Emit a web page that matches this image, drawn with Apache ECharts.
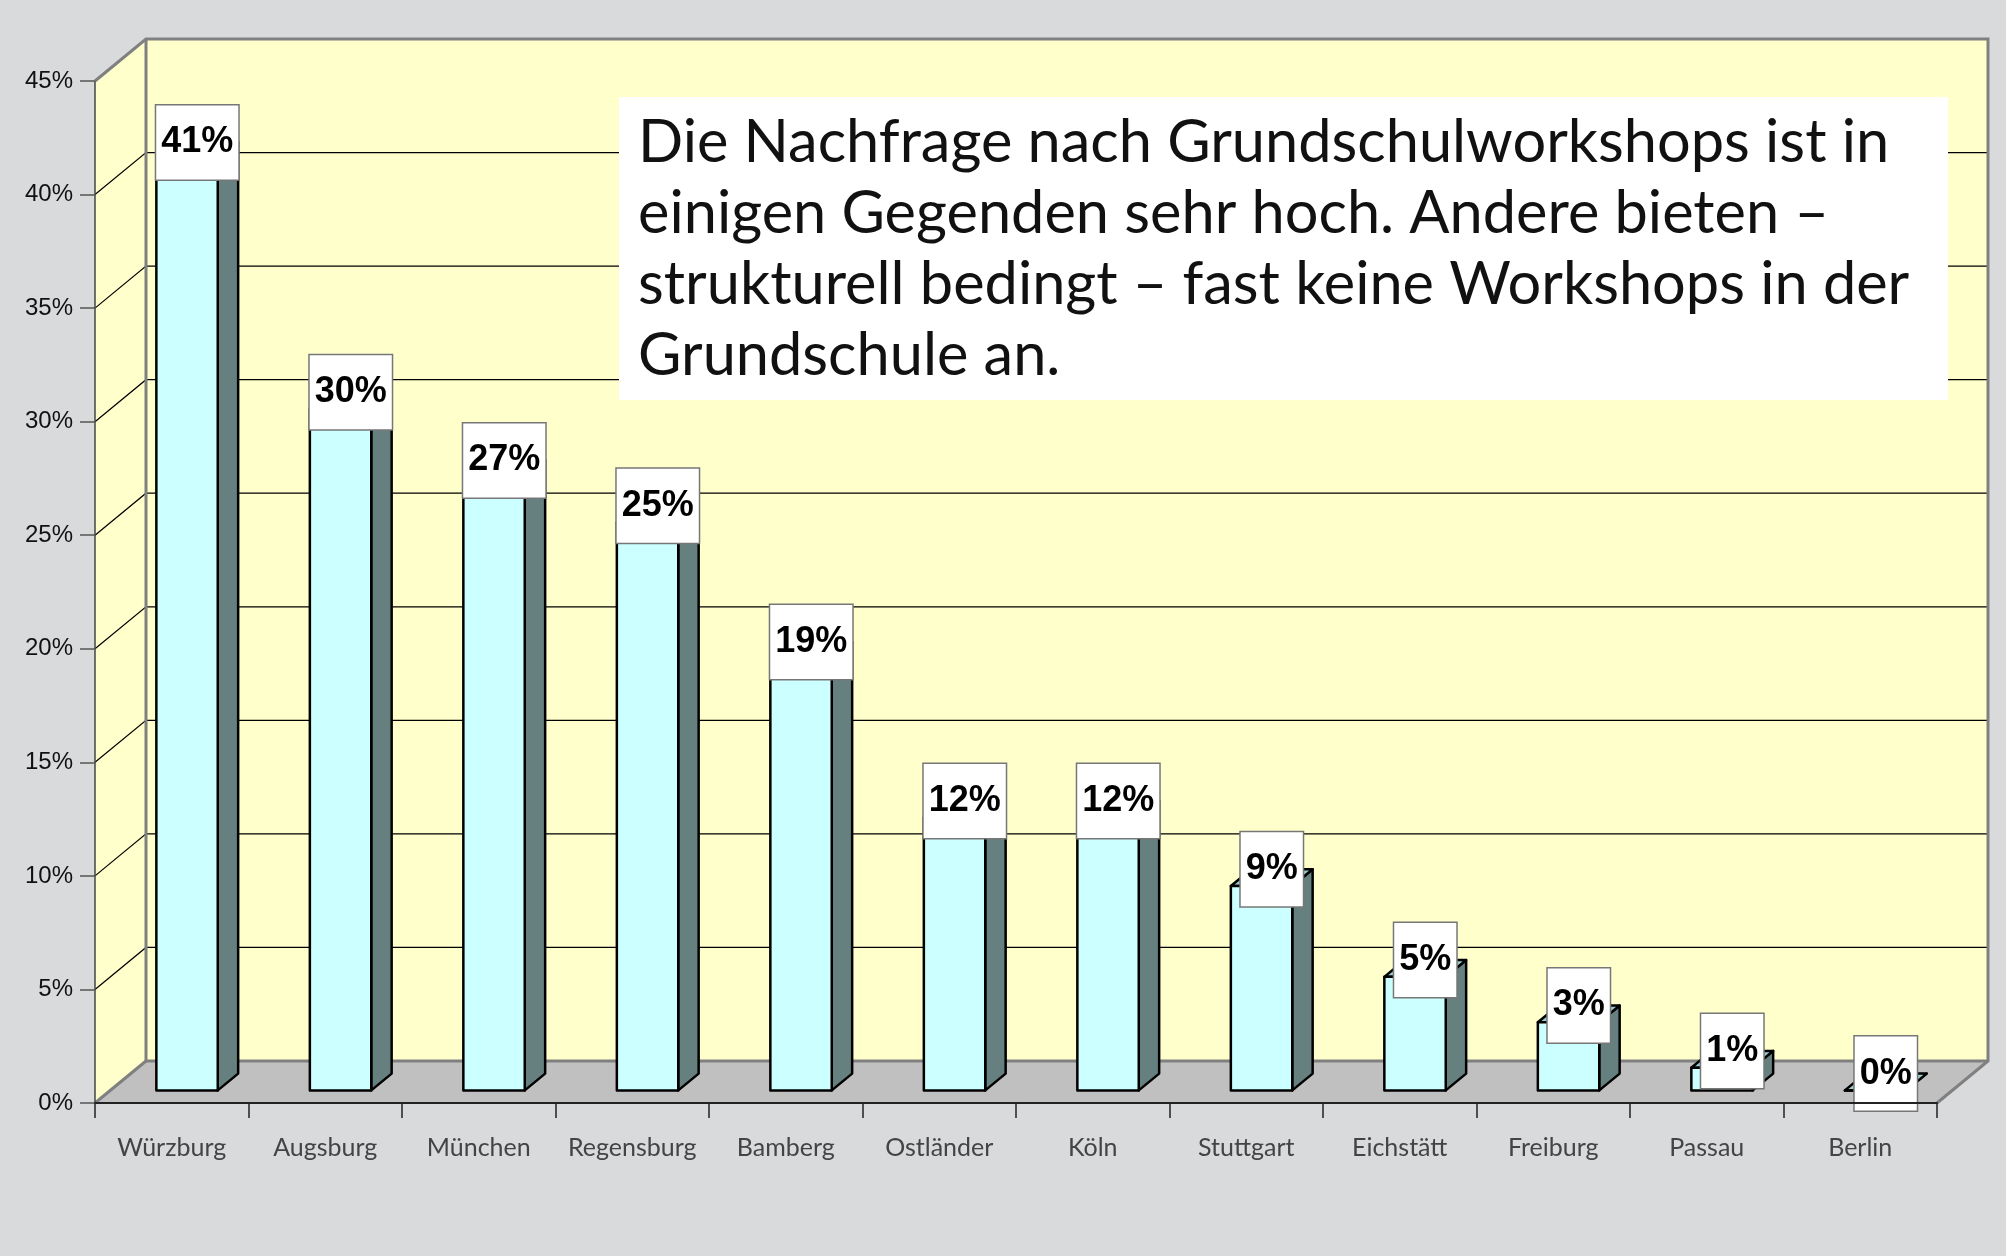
<!DOCTYPE html>
<html>
<head>
<meta charset="utf-8">
<script src="https://cdn.jsdelivr.net/npm/echarts@6/dist/echarts.min.js"></script>
<style>
  html, body { margin: 0; padding: 0; background: #d9dadc; }
  #chart { width: 2006px; height: 1256px; }
</style>
</head>
<body>
<div id="chart"></div>
<script>
// data
var cities = ['Würzburg', 'Augsburg', 'München', 'Regensburg', 'Bamberg', 'Ostländer',
              'Köln', 'Stuttgart', 'Eichstätt', 'Freiburg', 'Passau', 'Berlin'];
var shares = [41, 30, 27, 25, 19, 12, 12, 9, 5, 3, 1, 0];
var yTicks = [0, 5, 10, 15, 20, 25, 30, 35, 40, 45];
var note = 'Die Nachfrage nach Grundschulworkshops ist in\neinigen Gegenden sehr hoch. Andere bieten –\nstrukturell bedingt – fast keine Workshops in der\nGrundschule an.';

// depth of the fake 3d box
var DX = 51, DY = 42;

var myChart = echarts.init(document.getElementById('chart'));

function renderWalls(params, api) {
    var cs = params.coordSys;
    var x0 = cs.x, x1 = cs.x + cs.width;
    var yb = cs.y + cs.height, yt = cs.y;
    var kids = [];
    // left wall
    kids.push({type: 'polygon', shape: {points: [[x0, yb], [x0, yt], [x0 + DX, yt - DY], [x0 + DX, yb - DY]]},
        style: {fill: '#ffffcc'}});
    // back wall
    kids.push({type: 'rect', shape: {x: x0 + DX, y: yt - DY, width: cs.width, height: cs.height},
        style: {fill: '#ffffcc'}});
    // floor
    kids.push({type: 'polygon', shape: {points: [[x0, yb], [x1, yb], [x1 + DX, yb - DY], [x0 + DX, yb - DY]]},
        style: {fill: '#c0c0c0'}});
    // grid lines
    for (var i = 1; i < yTicks.length - 1; i++) {
        var y = api.coord([0, yTicks[i]])[1];
        kids.push({type: 'polyline', shape: {points: [[x0, y], [x0 + DX, y - DY], [x1 + DX, y - DY]]},
            style: {stroke: '#000', lineWidth: 1.2, fill: null}});
    }
    // edges
    var edge = {stroke: '#808080', lineWidth: 3, fill: null};
    kids.push({type: 'polyline', shape: {points: [[x0, yt], [x0 + DX, yt - DY], [x1 + DX, yt - DY], [x1 + DX, yb - DY], [x1, yb]]}, style: edge});
    kids.push({type: 'polyline', shape: {points: [[x0 + DX, yt - DY], [x0 + DX, yb - DY], [x1 + DX, yb - DY]]}, style: edge});
    kids.push({type: 'line', shape: {x1: x0, y1: yb, x2: x0 + DX, y2: yb - DY}, style: edge});
    kids.push({type: 'line', shape: {x1: x0, y1: yt, x2: x0, y2: yb}, style: {stroke: '#444', lineWidth: 1.5}});
    return {type: 'group', children: kids};
}

function renderBar(params, api) {
    var idx = api.value(0), val = api.value(1);
    var base = api.coord([idx, 0]);
    var top = api.coord([idx, val]);
    var band = api.size([1, 0])[0];
    var w = band * 0.4;
    var ox = DX * 0.3, oy = DY * 0.3;
    var dx = DX * 0.4, dy = DY * 0.4;
    var xl = base[0] + ox - w / 2, xr = xl + w;
    var yB = base[1] - oy, yT = top[1] - oy;
    var line = {stroke: '#000', lineWidth: 2.5, lineJoin: 'round'};
    return {
        type: 'group',
        children: [
            {type: 'polygon', shape: {points: [[xr, yT], [xr + dx, yT - dy], [xr + dx, yB - dy], [xr, yB]]},
                style: Object.assign({fill: '#668080'}, line)},
            {type: 'polygon', shape: {points: [[xl, yT], [xl + dx, yT - dy], [xr + dx, yT - dy], [xr, yT]]},
                style: Object.assign({fill: '#99cccc'}, line)},
            {type: 'rect', shape: {x: xl, y: yT, width: w, height: yB - yT},
                style: Object.assign({fill: '#ccffff'}, line)},
            {type: 'text', z2: 10,
                style: {
                    text: val + '%', x: base[0] + ox + dx / 2, y: yT - dy,
                    align: 'center', verticalAlign: 'middle',
                    fontFamily: 'Liberation Sans, Arial', fontWeight: 'bold', fontSize: 36,
                    fill: '#000', backgroundColor: '#fff', borderColor: '#777', borderWidth: 1.5,
                    padding: [19, 5, 19, 5]
                }}
        ]
    };
}

var option = {
    backgroundColor: '#d9dadc',
    animation: false,
    grid: {left: 95, right: 69, top: 81, bottom: 153},
    xAxis: {
        type: 'category',
        data: cities,
        z: 6,
        axisLine: {lineStyle: {color: '#222', width: 2}},
        axisTick: {show: true, length: 15, lineStyle: {color: '#222', width: 1.5}},
        axisLabel: {interval: 0, color: '#444', fontSize: 25, fontFamily: 'Lato', margin: 32}
    },
    yAxis: {
        type: 'value',
        min: 0, max: 45, interval: 5,
        z: 6,
        splitLine: {show: false},
        axisLine: {show: false},
        axisTick: {show: true, length: 15, lineStyle: {color: '#555', width: 1.5}},
        axisLabel: {formatter: '{value}%', color: '#111', fontSize: 24, fontFamily: 'Liberation Sans, Arial', margin: 22}
    },
    series: [
        {type: 'custom', z: 1, silent: true, data: [[0, 0]], renderItem: renderWalls},
        {type: 'custom', z: 5, data: shares.map(function (v, i) { return [i, v]; }), renderItem: renderBar}
    ],
    graphic: [
        {type: 'rect', z: 20, shape: {x: 619, y: 97, width: 1329, height: 303}, style: {fill: '#fff'}},
        {type: 'text', z: 21, left: 638, top: 107,
            style: {text: note, fontFamily: 'Lato', fontSize: 59.5, lineHeight: 71, fill: '#111'}}
    ]
};
myChart.setOption(option);
</script>
</body>
</html>
